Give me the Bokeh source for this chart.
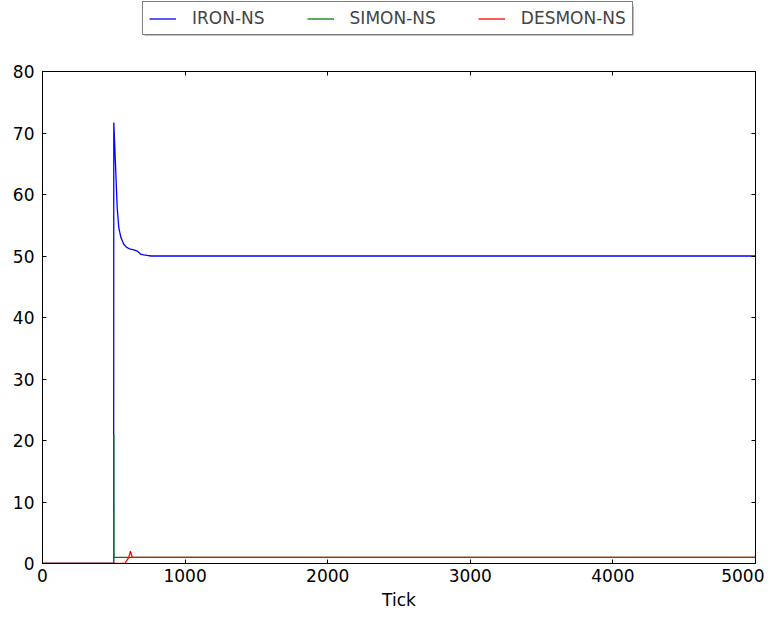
from bokeh.plotting import figure
from bokeh.layouts import column
from bokeh.models import (Range1d, LinearAxis, SingleIntervalTicker, Legend, LegendItem,
                          BoxAnnotation)
from bokeh.embed import file_html
from bokeh.resources import INLINE

# Data
iron_x = [0, 499, 500, 512, 524, 535, 550, 570, 590, 617, 640, 664, 680, 687, 710, 734, 760, 5000]
iron_y = [0, 0, 71.7, 64.8, 57.8, 54.6, 53.0, 51.9, 51.4, 51.1, 51.0, 50.8, 50.5, 50.3, 50.2, 50.1, 50.0, 50.0]

simon_x = [0, 499, 500, 501, 5000]
simon_y = [0, 0, 21, 1, 1]

desmon_x = [0, 578, 605, 617, 630, 5000]
desmon_y = [0, 0, 1, 2, 1, 1]

labels = ["IRON-NS", "SIMON-NS", "DESMON-NS"]
colors = ["#0000ff", "#008000", "#ff0000"]
xs = [iron_x, simon_x, desmon_x]
ys = [iron_y, simon_y, desmon_y]

FONT = "DejaVu Sans"
FS = "17px"
LW = 1.3

# ---------------- main plot ----------------
p = figure(frame_width=713, frame_height=492,
           x_range=Range1d(0, 5000), y_range=Range1d(0, 80),
           output_backend="svg", toolbar_location=None,
           min_border_left=42, min_border_right=9,
           min_border_top=13, min_border_bottom=50,
           x_axis_label="Tick")
p.xgrid.visible = False
p.ygrid.visible = False
p.outline_line_color = "black"
p.outline_line_width = 1
p.background_fill_color = "white"
p.border_fill_color = "white"

xt = SingleIntervalTicker(interval=1000)
yt = SingleIntervalTicker(interval=10)
p.xaxis.ticker = xt
p.yaxis.ticker = yt

p.add_layout(LinearAxis(ticker=xt), "above")
p.add_layout(LinearAxis(ticker=yt), "right")

for ax in p.axis:
    ax.major_tick_in = 4
    ax.major_tick_out = 0
    ax.minor_tick_in = 0
    ax.minor_tick_out = 0
    ax.axis_line_color = "black"
    ax.major_tick_line_color = "black"
    ax.major_label_text_font = FONT
    ax.major_label_text_font_size = FS
    ax.major_label_text_color = "black"
    ax.axis_label_text_font = FONT
    ax.axis_label_text_font_size = FS
    ax.axis_label_text_font_style = "normal"
    ax.axis_label_text_color = "black"

p.above[0].major_label_text_font_size = "0px"
p.above[0].major_label_standoff = 0
p.right[0].major_label_text_font_size = "0px"
p.right[0].major_label_standoff = 0

p.yaxis[0].major_label_standoff = 8
p.xaxis[0].major_label_standoff = 8
p.xaxis[0].axis_label_standoff = 12

for x, y, c in zip(xs, ys, colors):
    p.line(x, y, line_color=c, line_width=LW)

# ---------------- legend strip ----------------
lf = figure(width=764, height=58, output_backend="svg", toolbar_location=None,
            x_axis_type=None, y_axis_type=None,
            x_range=Range1d(-20000, -10000), y_range=Range1d(-200, -100),
            min_border_left=0, min_border_right=0, min_border_top=0, min_border_bottom=0)
lf.outline_line_color = None
lf.xgrid.visible = False
lf.ygrid.visible = False
lf.background_fill_color = "white"
lf.border_fill_color = "white"

# same series drawn off-range: only their legend swatches are seen
lrs = [lf.line(x, y, line_color=c, line_width=LW) for x, y, c in zip(xs, ys, colors)]

# drop shadow of the legend box
shadow = BoxAnnotation(left=102, right=591, bottom=23, top=53,
                       left_units="screen", right_units="screen",
                       bottom_units="screen", top_units="screen",
                       fill_color="#808080", fill_alpha=1, line_color=None)
lf.add_layout(shadow)

items = [LegendItem(label=l, renderers=[r]) for l, r in zip(labels, lrs)]
legend = Legend(items=items, orientation="horizontal", location=(100, 23),
                label_text_font=FONT, label_text_font_size=FS,
                glyph_width=27, glyph_height=19, label_height=19,
                label_standoff=16, spacing=42, padding=6, margin=0,
                border_line_color="black", border_line_width=1,
                background_fill_color="white", background_fill_alpha=1)
lf.add_layout(legend, "center")

layout = column(lf, p, spacing=0)
open("out.html", "w").write(file_html(layout, INLINE))
